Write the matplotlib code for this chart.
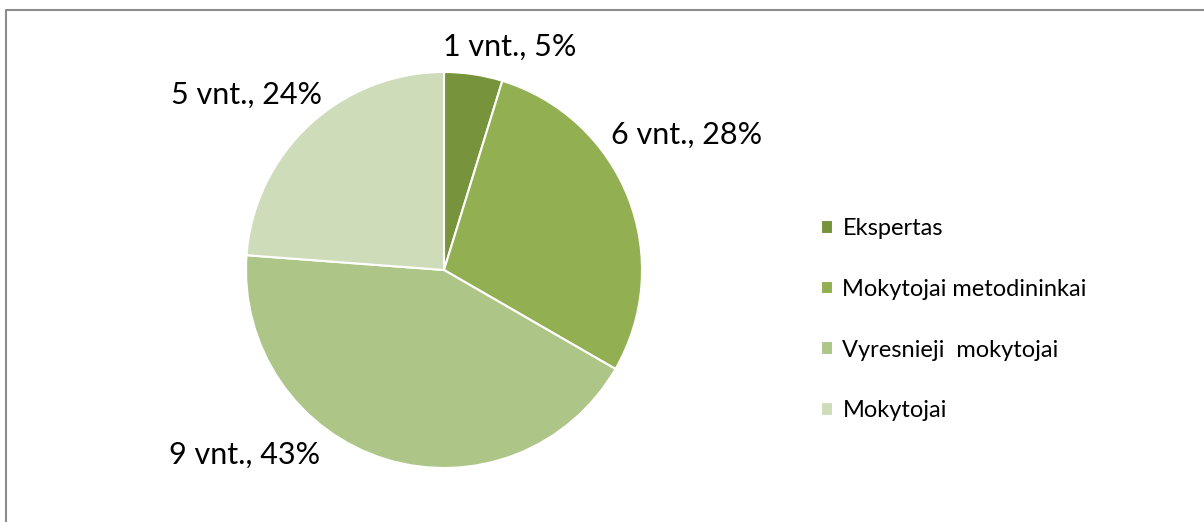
import matplotlib
matplotlib.use('Agg')
import matplotlib.pyplot as plt
from matplotlib.lines import Line2D

plt.rcParams['font.family'] = ['Lato', 'DejaVu Sans']

# data
categories = ['Ekspertas', 'Mokytojai metodininkai', 'Vyresnieji  mokytojai', 'Mokytojai']
counts = [1, 6, 9, 5]
percents = [5, 28, 43, 24]
colors = ['#77933c', '#92b052', '#adc688', '#cfdcb9']

fig = plt.figure(figsize=(12.04, 5.22), dpi=100)

# chart border (only left and top visible in the crop)
W, H = 1204, 522
fig.add_artist(Line2D([6 / W, 6 / W, 1.0], [0.0, 1 - 10 / H, 1 - 10 / H],
                      transform=fig.transFigure, color='#8c8c8c', linewidth=1.5))

ax = fig.add_axes([246 / W, 54 / H, 396 / W, 396 / H])
wedges, _ = ax.pie(counts, colors=colors, startangle=90, counterclock=False,
                   radius=1, wedgeprops=dict(edgecolor='white', linewidth=1.5))
ax.set_xlim(-1, 1)
ax.set_ylim(-1, 1)
ax.set_aspect('equal')
ax.axis('off')

# data labels
label_pos = [(0.333, 1.126), (1.227, 0.682), (-1.005, -0.934), (-0.995, 0.884)]
for (x, y), c, p in zip(label_pos, counts, percents):
    ax.text(x, y, f'{c} vnt., {p}%', ha='center', va='center', fontsize=22,
            color='black', clip_on=False)

fig.legend(wedges, categories, loc='upper left', bbox_to_anchor=(800 / W, 1 - 197 / H),
           frameon=False, fontsize=17, handlelength=0.5, handleheight=0.5,
           handletextpad=0.4, labelspacing=1.68)

fig.savefig('out.png', dpi=100)
